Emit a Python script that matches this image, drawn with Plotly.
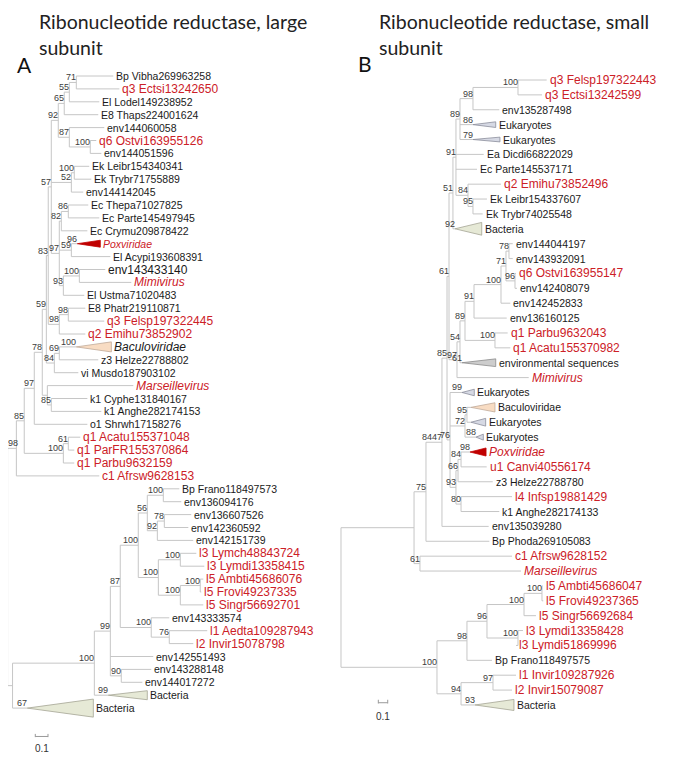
import plotly.graph_objects as go

# ------------------------------------------------------------------
# Panel A : Ribonucleotide reductase, large subunit
# ------------------------------------------------------------------
A_NAMES = ["Bp Vibha269963258", "q3 Ectsi13242650", "El Lodel149238952", "E8 Thaps224001624",
           "env144060058", "q6 Ostvi163955126", "env144051596", "Ek Leibr154340341",
           "Ek Trybr71755889", "env144142045", "Ec Thepa71027825", "Ec Parte145497945",
           "Ec Crymu209878422", "Poxviridae", "El Acypi193608391", "env143433140", "Mimivirus",
           "El Ustma71020483", "E8 Phatr219110871", "q3 Felsp197322445", "q2 Emihu73852902",
           "Baculoviridae", "z3 Helze22788802", "vi Musdo187903102", "Marseillevirus",
           "k1 Cyphe131840167", "k1 Anghe282174153", "o1 Shrwh17158276", "q1 Acatu155371048",
           "q1 ParFR155370864", "q1 Parbu9632159", "c1 Afrsw9628153", "Bp Frano118497573",
           "env136094176", "env136607526", "env142360592", "env142151739", "l3 Lymch48843724",
           "l3 Lymdi13358415", "l5 Ambti45686076", "l5 Frovi49237335", "l5 Singr56692701",
           "env143333574", "l1 Aedta109287943", "l2 Invir15078798", "env142551493",
           "env143288148", "env144017272", "Bacteria", "Bacteria"]
# depth of each tip (for collapsed clades: depth of the clade node)
A_TIP = [0.832, 0.880, 0.722, 0.714, 0.761, 0.698, 0.738, 0.643, 0.659, 0.596,
         0.635, 0.722, 0.628, 0.549, 0.809, 0.769, 0.974, 0.604, 0.612, 0.761,
         0.612, 0.541, 0.714, 0.557, 0.990, 0.628, 0.738, 0.628, 0.572, 0.525,
         0.525, 0.722, 1.352, 1.368, 1.446, 1.423, 1.462, 1.486, 1.549, 1.541,
         1.525, 1.541, 1.273, 1.572, 1.462, 1.147, 1.131, 1.061, 0.793, 0.155]
A_LEAF_PARENT = [12, 12, 11, 10, 13, 14, 14, 16, 16, 15, 19, 19, 18, 20, 20, 22, 22, 21, 24, 24,
                 23, 26, 26, 25, 27, 28, 28, 4, 30, 30, 29, 1, 36, 36, 38, 38, 37, 40, 40, 42,
                 42, 41, 43, 44, 44, 32, 45, 45, 31, 2]
A_RED = [1, 5, 13, 16, 19, 20, 24, 28, 29, 30, 31, 37, 38, 39, 40, 41, 43, 44]
A_ITALIC = [13, 16, 21, 24]
A_CLADE_LEAF = [13, 21, 48, 49]
A_CLADE_BASE = [0.730, 0.817, 1.100, 0.675]
A_CLADE_SPAN = [0.27, 0.39, 0.35, 0.70]
A_CLADE_BOOT = [96, 100, 99, 67]
A_NODE_DEPTH = [0.0, 0.069, 0.039, 0.131, 0.210, 0.273, 0.305, 0.320, 0.344, 0.399,
                0.446, 0.486, 0.541, 0.486, 0.651, 0.502, 0.525, 0.407, 0.423, 0.478,
                0.502, 0.439, 0.565, 0.407, 0.478, 0.368, 0.407, 0.313, 0.344, 0.439,
                0.478, 0.683, 0.809, 0.887, 1.029, 1.100, 1.226, 1.179, 1.234, 1.187,
                1.360, 1.360, 1.517, 1.131, 1.273, 0.895]
A_NODE_BOOT = [None, 98, None, 85, 97, 78, 59, 83, 57, 92,
               65, 55, 71, 87, 100, 52, 100, 97, 82, 86,
               59, 93, 100, 98, 98, 84, 69, None, 85, 100,
               61, 100, 99, 87, 100, 56, 100, 92, 78, 100,
               100, 100, 100, 100, 76, 90]
A_NODE_PARENT = [-1, 0, 0, 1, 3, 4, 5, 6, 7, 8,
                 9, 10, 11, 9, 13, 8, 15, 8, 17, 18,
                 17, 17, 21, 7, 23, 6, 25, 5, 27, 3,
                 29, 2, 31, 32, 33, 34, 35, 35, 37, 34,
                 39, 39, 41, 33, 43, 32]

# ------------------------------------------------------------------
# Panel B : Ribonucleotide reductase, small subunit
# ------------------------------------------------------------------
B_NAMES = ["q3 Felsp197322443", "q3 Ectsi13242599", "env135287498", "Eukaryotes", "Eukaryotes",
           "Ea Dicdi66822029", "Ec Parte145537171", "q2 Emihu73852496", "Ek Leibr154337607",
           "Ek Trybr74025548", "Bacteria", "env144044197", "env143932091", "q6 Ostvi163955147",
           "env142408079", "env142452833", "env136160125", "q1 Parbu9632043",
           "q1 Acatu155370982", "environmental sequences", "Mimivirus", "Eukaryotes",
           "Baculoviridae", "Eukaryotes", "Eukaryotes", "Poxviridae", "u1 Canvi40556174",
           "z3 Helze22788780", "l4 Infsp19881429", "k1 Anghe282174133", "env135039280",
           "Bp Phoda269105083", "c1 Afrsw9628152", "Marseillevirus", "l5 Ambti45686047",
           "l5 Frovi49237365", "l5 Singr56692684", "l3 Lymdi13358428", "l3 Lymdi51869996",
           "Bp Frano118497575", "l1 Invir109287926", "l2 Invir15079087", "Bacteria"]
B_TIP = [2.188, 2.138, 1.684, 1.404, 1.404, 1.518, 1.447, 1.702, 1.553, 1.507,
         1.213, 1.827, 1.827, 1.862, 1.872, 1.801, 1.763, 1.773, 1.801, 1.287,
         1.997, 1.287, 1.383, 1.383, 1.436, 1.372, 1.550, 1.614, 1.819, 1.684,
         1.571, 1.578, 1.819, 1.915, 2.146, 2.152, 2.074, 1.936, 1.862, 1.606,
         1.862, 1.819, 1.426]
B_LEAF_PARENT = [13, 13, 12, 11, 11, 10, 10, 14, 15, 15, 9, 22, 22, 23, 23, 20, 19, 24, 24, 17,
                 16, 25, 27, 27, 26, 30, 30, 29, 31, 31, 6, 3, 4, 4, 35, 35, 34, 36, 36, 32,
                 38, 38, 37]
B_RED = [0, 1, 7, 13, 17, 18, 20, 25, 26, 28, 32, 33, 34, 35, 36, 37, 38, 40, 41]
B_ITALIC = [20, 25, 33]
B_CLADE_LEAF = [3, 4, 10, 19, 21, 22, 23, 24, 25, 42]
B_CLADE_BASE = [1.646, 1.691, 1.497, 1.646, 1.418, 1.638, 1.539, 1.514, 1.543, 1.840]
B_CLADE_SPAN = [0.19, 0.16, 0.43, 0.26, 0.22, 0.31, 0.26, 0.20, 0.27, 0.37]
B_CLADE_BOOT = [86, 79, 92, 61, 99, None, None, 88, 98, 93]
B_NODE_DEPTH = [0.0, 0.777, 1.021, 0.904, 0.840, 0.968, 1.074, 1.128, 1.149, 1.191,
                1.223, 1.266, 1.404, 1.883, 1.351, 1.404, 1.234, 1.266, 1.319, 1.415,
                1.702, 1.755, 1.787, 1.851, 1.638, 1.160, 1.319, 1.340, 1.223, 1.245,
                1.277, 1.277, 1.340, 1.553, 1.947, 2.138, 1.883, 1.277, 1.617]
B_NODE_BOOT = [None, None, 100, 75, 61, 84, 47, 85, 61, 51,
               91, 89, 98, 100, 84, 95, 97, 54, 89, 91,
               100, 71, 78, 96, 100, 76, 72, 95, 93, 66,
               84, 80, 98, 96, 100, 100, 100, 94, 97]
B_NODE_PARENT = [-1, 0, 0, 1, 1, 3, 5, 6, 7, 8,
                 9, 10, 11, 12, 10, 14, 8, 16, 17, 18,
                 19, 20, 21, 21, 18, 7, 25, 26, 25, 28,
                 29, 28, 2, 32, 33, 34, 33, 2, 37]

SCALE_LEN = 0.1

# ------------------------------------------------------------------
# Styling / layout (page body adds an 8 px offset, compensated here)
# ------------------------------------------------------------------
W, H = 685, 760
OFF = 8
RED = "#cc2027"
BLACK = "#1a1a1a"
LINE = "#c6c6c6"
BOOT_COLOR = "#3c3c3c"
BOOT_SIZE = 9
FONT = "Liberation Sans, Arial, sans-serif"
TITLE_FONT = "Lato, Open Sans, sans-serif"
CLADE_STYLE = {
    "Bacteria": ("#e6e9d6", "#a4a594"),
    "Baculoviridae": ("#f8dcc3", "#c0ab9a"),
    "Eukaryotes": ("#d6d9e4", "#8c8e9c"),
    "environmental sequences": ("#cdcdcd", "#8c8c8c"),
    "Poxviridae": ("#c00000", "#c00000"),
}

PANELS = [
    dict(names=A_NAMES, tip=A_TIP, leaf_parent=A_LEAF_PARENT, red=A_RED, italic=A_ITALIC,
         clade_leaf=A_CLADE_LEAF, clade_base=A_CLADE_BASE, clade_span=A_CLADE_SPAN,
         clade_boot=A_CLADE_BOOT, node_depth=A_NODE_DEPTH, node_boot=A_NODE_BOOT,
         node_parent=A_NODE_PARENT, size_override={13: 10.5, 15: 12, 21: 12},
         xa="x", ya="y", dom=(0.0, 0.49), x0=7.6 - OFF, ppu=127.0, y0=76.0 - OFF, rowpx=12.9,
         scale_at=(0.218, 51.2)),
    dict(names=B_NAMES, tip=B_TIP, leaf_parent=B_LEAF_PARENT, red=B_RED, italic=B_ITALIC,
         clade_leaf=B_CLADE_LEAF, clade_base=B_CLADE_BASE, clade_span=B_CLADE_SPAN,
         clade_boot=B_CLADE_BOOT, node_depth=B_NODE_DEPTH, node_boot=B_NODE_BOOT,
         node_parent=B_NODE_PARENT, size_override={},
         xa="x2", ya="y2", dom=(0.48, 1.0), x0=341.0 - OFF, ppu=94.0, y0=80.0 - OFF, rowpx=14.88,
         scale_at=(0.397, 41.85)),
]

fig = go.Figure()
annotations = []


def boot_annotation(p, x, y, text):
    # keep the label inside the figure when the node sits at the very left edge
    right_px = p["x0"] + x * p["ppu"] + 2
    width_px = len(text) * 0.556 * BOOT_SIZE + 2
    shift = 2
    if right_px - width_px < 0:
        shift += width_px - right_px
    return dict(x=x, y=y, xref=p["xa"], yref=p["ya"], text=text, showarrow=False,
                xanchor="right", yanchor="middle", xshift=shift, yshift=5,
                font=dict(family=FONT, size=BOOT_SIZE, color=BOOT_COLOR))


def draw_panel(p):
    n_nodes = len(p["node_depth"])
    children = [[] for _ in range(n_nodes)]
    for i, par in enumerate(p["leaf_parent"]):
        children[par].append(("L", i))
    for j, par in enumerate(p["node_parent"]):
        if par >= 0:
            children[par].append(("N", j))

    memo = {}

    def row(kind, i):
        if kind == "L":
            return float(i)
        if i in memo:
            return memo[i]
        rs = [row(k, c) for k, c in children[i]]
        memo[i] = (min(rs) + max(rs)) / 2.0
        return memo[i]

    def depth(kind, i):
        return p["tip"][i] if kind == "L" else p["node_depth"][i]

    xs, ys = [], []
    for j in range(n_nodes):
        if not children[j]:
            continue
        rs = [row(k, c) for k, c in children[j]]
        d = p["node_depth"][j]
        xs += [d, d, None]
        ys += [min(rs), max(rs), None]
        for k, c in children[j]:
            r = row(k, c)
            xs += [d, depth(k, c), None]
            ys += [r, r, None]
    fig.add_trace(go.Scatter(x=xs, y=ys, mode="lines", xaxis=p["xa"], yaxis=p["ya"],
                             line=dict(color=LINE, width=1), hoverinfo="skip",
                             cliponaxis=False))

    # collapsed clades
    clade_base = {}
    for k, leaf in enumerate(p["clade_leaf"]):
        apex = p["tip"][leaf]
        base = p["clade_base"][k]
        span = p["clade_span"][k]
        r = float(leaf)
        fill, edge = CLADE_STYLE[p["names"][leaf]]
        fig.add_trace(go.Scatter(x=[apex, base, base, apex], y=[r, r - span, r + span, r],
                                 mode="lines", fill="toself", fillcolor=fill,
                                 line=dict(color=edge, width=0.8),
                                 xaxis=p["xa"], yaxis=p["ya"], hoverinfo="skip"))
        clade_base[leaf] = base
        if p["clade_boot"][k] is not None:
            annotations.append(boot_annotation(p, apex, r, str(p["clade_boot"][k])))

    # leaf labels
    for i, name in enumerate(p["names"]):
        is_red = i in p["red"]
        size = 12 if is_red else 10.5
        size = p["size_override"].get(i, size)
        txt = "<i>%s</i>" % name if i in p["italic"] else name
        x = clade_base.get(i, p["tip"][i])
        annotations.append(dict(x=x, y=float(i), xref=p["xa"], yref=p["ya"], text=txt,
                                showarrow=False, xanchor="left", yanchor="middle",
                                xshift=1, font=dict(family=FONT, size=size,
                                                    color=RED if is_red else BLACK)))

    # bootstrap values
    for j in range(n_nodes):
        b = p["node_boot"][j]
        if b is None or not children[j]:
            continue
        annotations.append(boot_annotation(p, p["node_depth"][j], row("N", j), str(b)))

    # scale bar
    sx, sr = p["scale_at"]
    fig.add_trace(go.Scatter(x=[sx, sx, None, sx, sx + SCALE_LEN, None, sx + SCALE_LEN, sx + SCALE_LEN],
                             y=[sr - 0.2, sr + 0.05, None, sr, sr, None, sr - 0.2, sr + 0.05],
                             mode="lines", line=dict(color="#9a9a9a", width=1),
                             xaxis=p["xa"], yaxis=p["ya"], hoverinfo="skip"))
    annotations.append(dict(x=sx + SCALE_LEN / 2, y=sr + 0.95, xref=p["xa"], yref=p["ya"],
                            text=str(SCALE_LEN), showarrow=False, xanchor="center",
                            yanchor="middle", font=dict(family=FONT, size=10, color="#333")))


for p in PANELS:
    draw_panel(p)

layout_axes = {}
for k, p in enumerate(PANELS):
    suffix = "" if k == 0 else str(k + 1)
    x_lo = (p["dom"][0] * W - p["x0"]) / p["ppu"]
    x_hi = (p["dom"][1] * W - p["x0"]) / p["ppu"]
    y_bottom = (H - p["y0"]) / p["rowpx"]
    y_top = -p["y0"] / p["rowpx"]
    layout_axes["xaxis" + suffix] = dict(domain=list(p["dom"]), range=[x_lo, x_hi],
                                         visible=False, fixedrange=True,
                                         anchor="y" + suffix)
    layout_axes["yaxis" + suffix] = dict(domain=[0, 1], range=[y_bottom, y_top],
                                         visible=False, fixedrange=True,
                                         anchor="x" + suffix)

# titles and panel letters (positions in reference pixels)
TITLES = [("Ribonucleotide reductase, large", 37, 22), ("subunit", 37, 48),
          ("Ribonucleotide reductase, small", 377, 22), ("subunit", 377, 48)]
for text, px, py in TITLES:
    annotations.append(dict(x=(px - OFF) / W, y=1 - (py - OFF) / H, xref="paper", yref="paper",
                            text=text, showarrow=False, xanchor="left", yanchor="middle",
                            font=dict(family=TITLE_FONT, size=19.5, color="#222")))
for text, px, py in [("A", 15, 64), ("B", 356, 63)]:
    annotations.append(dict(x=(px - OFF) / W, y=1 - (py - OFF) / H, xref="paper", yref="paper",
                            text=text, showarrow=False, xanchor="left", yanchor="middle",
                            font=dict(family=TITLE_FONT, size=21, color="#111")))

fig.update_layout(width=W, height=H, margin=dict(l=0, r=0, t=0, b=0),
                  paper_bgcolor="white", plot_bgcolor="white", showlegend=False,
                  annotations=annotations, **layout_axes)

fig.write_html("out.html")
